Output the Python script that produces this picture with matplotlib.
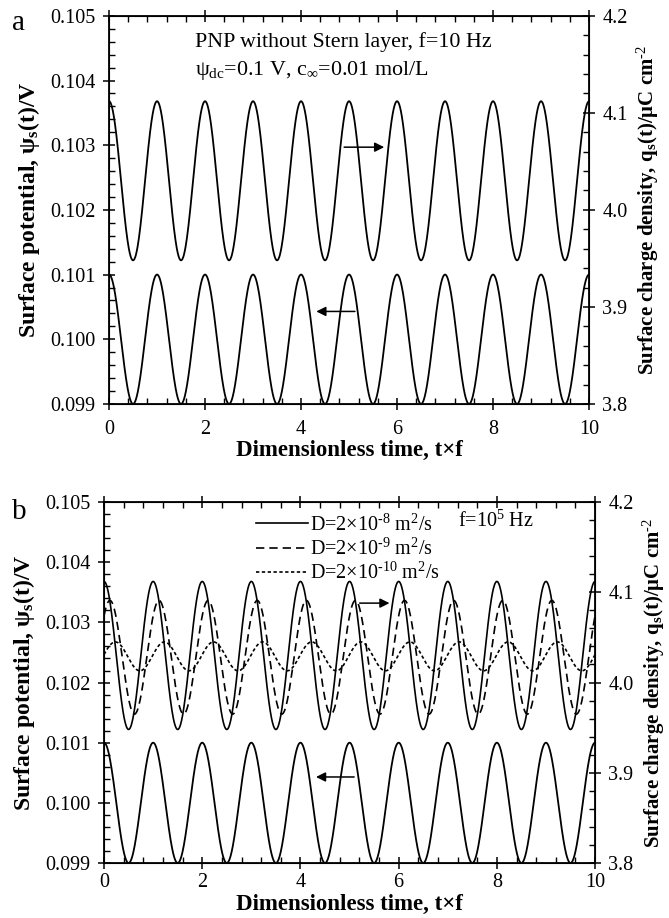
import numpy as np
import matplotlib
matplotlib.use("Agg")
import matplotlib.pyplot as plt
from matplotlib.ticker import MultipleLocator

plt.rcParams['font.family'] = ['Liberation Serif', 'DejaVu Serif']
plt.rcParams['mathtext.fontset'] = 'custom'
plt.rcParams['mathtext.rm'] = 'Liberation Serif'
plt.rcParams['mathtext.it'] = 'Liberation Serif:italic'
plt.rcParams['mathtext.bf'] = 'Liberation Serif:bold'

# values (one period = 1 in t*f)
t = np.linspace(0, 10, 2001)

# surface potential, left axis (same in both panels)
psi_peak = 0.1010
psi_trough = 0.0990
psi_lag = 0.0

# surface charge density, right axis
# panel a: f = 10 Hz
qa_peak = 4.112
qa_trough = 3.948
qa_lag = 0.0

# panel b: f = 1e5 Hz, three diffusivities
qb_labels = [r'D=2×10$^{\text{-8}}$ m$^{\text{2}}$/s',
             r'D=2×10$^{\text{-9}}$ m$^{\text{2}}$/s',
             r'D=2×10$^{\text{-10}}$ m$^{\text{2}}$/s']
qb_peak = [4.112, 4.091, 4.045]
qb_trough = [3.948, 3.965, 4.013]
qb_lag = [0.0, 0.12, 0.23]
qb_style = ['-', (0, (5, 3)), (0, (2, 1.5))]


def wave(peak, trough, lag):
    mean = (peak + trough) / 2
    amp = (peak - trough) / 2
    return mean + amp * np.cos(2 * np.pi * (t - lag))


def style_axes(ax, ax2, xpad, xlabpad):
    ax.set_xlim(0, 10)
    ax.set_ylim(0.099, 0.105)
    ax2.set_ylim(3.8, 4.2)
    ax.xaxis.set_major_locator(MultipleLocator(2))
    ax.xaxis.set_minor_locator(MultipleLocator(0.4))
    ax.yaxis.set_major_locator(MultipleLocator(0.001))
    ax.yaxis.set_minor_locator(MultipleLocator(0.0002))
    ax2.yaxis.set_major_locator(MultipleLocator(0.1))
    ax2.yaxis.set_minor_locator(MultipleLocator(0.02))
    ax.yaxis.set_major_formatter(lambda v, p: '%.3f' % v)
    ax2.yaxis.set_major_formatter(lambda v, p: '%.1f' % v)
    ax.tick_params(which='major', direction='inout', length=9, width=1.1,
                   labelsize=14.5, top=True, right=False)
    ax.tick_params(axis='x', which='major', pad=xpad)
    ax.tick_params(axis='y', which='major', pad=5)
    ax.tick_params(which='minor', direction='in', length=4, width=1,
                   top=True, right=False)
    ax2.tick_params(which='major', direction='inout', length=9, width=1.1,
                    labelsize=14.5, pad=5)
    ax2.tick_params(which='minor', direction='in', length=4, width=1)
    for s in ax.spines.values():
        s.set_linewidth(1.3)
    ax.set_xlabel('Dimensionless time, t×f', fontsize=16.5, fontweight='bold',
                  labelpad=xlabpad)
    ax.set_ylabel(r'Surface potential, ψ$_\mathbf{s}$(t)/V', fontsize=17,
                  fontweight='bold', labelpad=6)
    ax2.set_ylabel(r'Surface charge density, q$_\mathbf{s}$(t)/μC cm$^{\text{-2}}$',
                   fontsize=15, fontweight='bold', labelpad=5)


fig = plt.figure(figsize=(6.69, 9.18), dpi=100)

# ---- panel a
axa = fig.add_axes([0.163, 0.560, 0.7175, 0.4227])
axa2 = axa.twinx()
axa.plot(t, wave(psi_peak, psi_trough, psi_lag), color='k', lw=1.3)
axa2.plot(t, wave(qa_peak, qa_trough, qa_lag), color='k', lw=1.3)
style_axes(axa, axa2, 7, 1)
axa.annotate('', xy=(5.79, 0.10297), xytext=(4.84, 0.10297),
             arrowprops=dict(arrowstyle='-|>', color='k', lw=1.1,
                             mutation_scale=14))
axa.annotate('', xy=(4.26, 0.10043), xytext=(5.18, 0.10043),
             arrowprops=dict(arrowstyle='-|>', color='k', lw=1.1,
                             mutation_scale=14))
axa.text(1.8, 0.10460, 'PNP without Stern layer, f=10 Hz', fontsize=15.8,
         va='center')
axa.text(1.8, 0.10416, r'ψ$_{\rm dc}$=0.1 V, c$_{∞}$=0.01 mol/L',
         fontsize=15.8, va='center')
fig.text(0.018, 0.975, 'a', fontsize=21, va='center')

# ---- panel b
axb = fig.add_axes([0.1555, 0.0599, 0.734, 0.3932])
axb2 = axb.twinx()
axb.plot(t, wave(psi_peak, psi_trough, psi_lag), color='k', lw=1.3)
for lab, pk, tr, lg, ls in zip(qb_labels, qb_peak, qb_trough, qb_lag, qb_style):
    axb2.plot(t, wave(pk, tr, lg), color='k', lw=1.2, ls=ls, label=lab)
style_axes(axb, axb2, 3, 1)
axb2.legend(loc='upper left', bbox_to_anchor=(0.285, 1.0), frameon=False,
            fontsize=14.5, handlelength=2.6, handletextpad=0.1,
            labelspacing=0.15, borderaxespad=0.2)
axb.annotate('', xy=(5.87, 0.10332), xytext=(5.15, 0.10332),
             arrowprops=dict(arrowstyle='-|>', color='k', lw=1.1,
                             mutation_scale=14))
axb.annotate('', xy=(4.26, 0.10043), xytext=(5.15, 0.10043),
             arrowprops=dict(arrowstyle='-|>', color='k', lw=1.1,
                             mutation_scale=14))
axb.text(7.2, 0.10468, r'f=10$^{\rm 5}$ Hz', fontsize=14.5, va='center')
fig.text(0.018, 0.442, 'b', fontsize=21, va='center')

fig.savefig('out.png', dpi=100)
